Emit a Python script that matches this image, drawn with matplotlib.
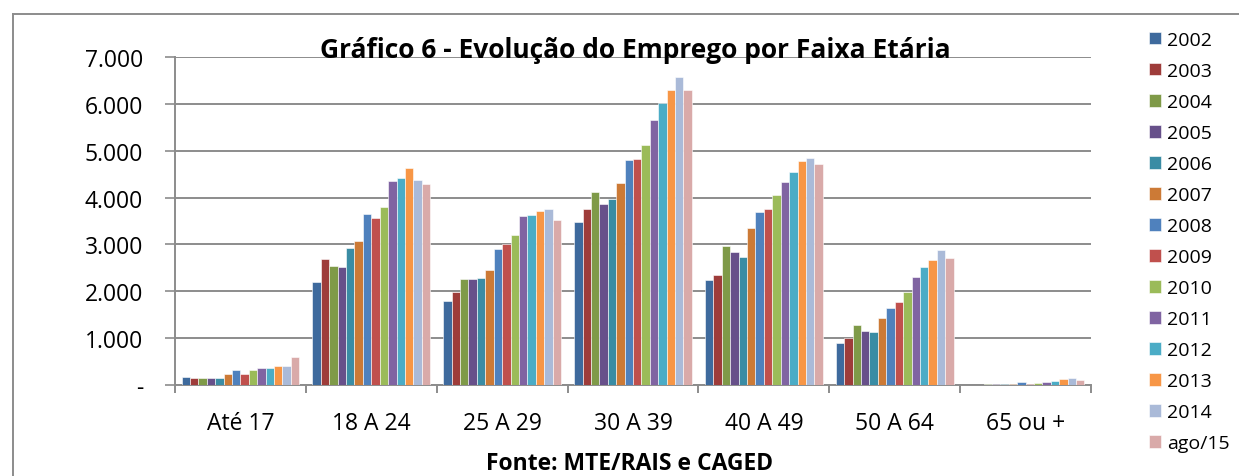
import matplotlib
matplotlib.use("Agg")
import matplotlib.pyplot as plt
from matplotlib.lines import Line2D
from matplotlib.ticker import FixedLocator, FuncFormatter
import numpy as np

categories = ["Até 17", "18 A 24", "25 A 29", "30 A 39", "40 A 49", "50 A 64", "65 ou +"]
series_names = ["2002", "2003", "2004", "2005", "2006", "2007", "2008",
                "2009", "2010", "2011", "2012", "2013", "2014", "ago/15"]

s2002 = [180, 2205, 1800, 3476, 2250, 904, 5]
s2003 = [145, 2695, 1983, 3746, 2357, 1010, 10]
s2004 = [150, 2546, 2254, 4124, 2976, 1288, 20]
s2005 = [145, 2516, 2269, 3868, 2835, 1160, 20]
s2006 = [150, 2915, 2290, 3968, 2735, 1124, 20]
s2007 = [232, 3064, 2446, 4310, 3340, 1437, 30]
s2008 = [326, 3646, 2893, 4808, 3690, 1635, 60]
s2009 = [232, 3569, 3006, 4829, 3754, 1770, 30]
s2010 = [326, 3789, 3207, 5128, 4045, 1991, 40]
s2011 = [370, 4350, 3597, 5656, 4338, 2296, 70]
s2012 = [365, 4414, 3633, 6011, 4551, 2510, 80]
s2013 = [398, 4635, 3704, 6303, 4780, 2659, 122]
s2014 = [413, 4380, 3753, 6566, 4850, 2872, 144]
sago15 = [602, 4300, 3527, 6303, 4716, 2716, 100]

series_values = [s2002, s2003, s2004, s2005, s2006, s2007, s2008,
                 s2009, s2010, s2011, s2012, s2013, s2014, sago15]

colors = ["#3E6A9D", "#9E3C3A", "#7F9A48", "#67508A", "#3A8CA4", "#CC7A36",
          "#4F81BD", "#C0504D", "#9BBB59", "#8064A2", "#4BACC6", "#F79646",
          "#AABAD8", "#D9AAA9"]

yticks = [0, 1000, 2000, 3000, 4000, 5000, 6000, 7000]

plt.rcParams['font.family'] = ['Open Sans', 'DejaVu Sans']

fig = plt.figure(figsize=(12.39, 4.77), dpi=100)
ax = fig.add_axes([175/1239, 1-386/477, (1091-175)/1239, (386-58)/477])

n = len(series_names)
group_w = 0.9
bw = group_w / n
x = np.arange(len(categories))
for i, (name, vals, c) in enumerate(zip(series_names, series_values, colors)):
    ax.bar(x - group_w/2 + bw*(i+0.5), vals, width=bw, color=c, label=name,
           edgecolor="white", linewidth=0.4, zorder=3)

ax.set_xlim(-0.5, len(categories)-0.5)
ax.set_ylim(0, 7000)
ax.yaxis.set_major_locator(FixedLocator(yticks))
ax.yaxis.set_major_formatter(FuncFormatter(
    lambda v, p: "-" if v == 0 else f"{int(v):,}".replace(",", ".")))
ax.grid(axis="y", color="#8C8C8C", linewidth=1.4, zorder=0)
ax.set_axisbelow(True)

ax.set_xticks(x)
ax.set_xticklabels(categories)
ax.set_xticks(np.arange(len(categories)+1) - 0.5, minor=True)
ax.tick_params(axis="x", which="major", length=0, pad=19, labelsize=16.5)
ax.tick_params(axis="x", which="minor", length=6, width=1.4, color="#8C8C8C")
ax.tick_params(axis="y", length=7, width=1.2, color="#8C8C8C", labelsize=16.5, pad=16)

for side in ["top", "right"]:
    ax.spines[side].set_visible(False)
for side in ["left", "bottom"]:
    ax.spines[side].set_color("#8C8C8C")
    ax.spines[side].set_linewidth(1.4)

fig.text(635/1239, 1-50/477, "Gráfico 6 - Evolução do Emprego por Faixa Etária",
         ha="center", va="center", fontsize=19, fontweight="bold")
fig.text(630/1239, 1-464/477, "Fonte: MTE/RAIS e CAGED",
         ha="center", va="center", fontsize=16.5, fontweight="bold")

leg = fig.legend(loc="upper left", bbox_to_anchor=(1149/1239, 1-32/477),
                 frameon=False, fontsize=14, handlelength=0.62, handleheight=0.62,
                 handletextpad=0.3, labelspacing=0.67, borderaxespad=0,
                 borderpad=0)

# outer border
fig.add_artist(Line2D([12.5/1239, 1], [1-15/477, 1-15/477], color="#8C8C8C",
                      linewidth=1.4, transform=fig.transFigure))
fig.add_artist(Line2D([12.5/1239, 12.5/1239], [0, 1-15/477], color="#8C8C8C",
                      linewidth=1.4, transform=fig.transFigure))

fig.savefig("out.png", dpi=100)
